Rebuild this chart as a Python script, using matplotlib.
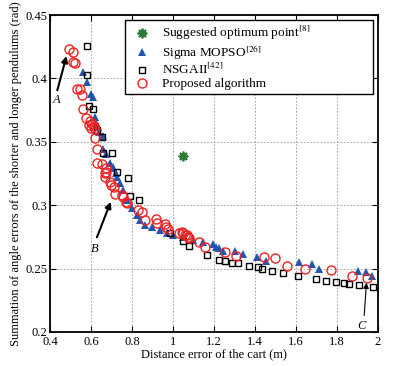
import matplotlib
matplotlib.use("Agg")
import matplotlib.pyplot as plt

plt.rcParams['font.family'] = ['Liberation Serif', 'DejaVu Serif']
plt.rcParams['mathtext.fontset'] = 'stix'

# Proposed algorithm (red circles)
prop_x = [0.494, 0.511, 0.514, 0.520, 0.532, 0.546, 0.557, 0.562, 0.574, 0.595, 0.592, 0.605,
          0.598, 0.615, 0.620, 0.620, 0.628, 0.631, 0.652, 0.672, 0.673, 0.668, 0.668, 0.693,
          0.698, 0.712, 0.717, 0.750, 0.758, 0.771, 0.777, 0.831, 0.847, 0.863, 0.917, 0.920,
          0.961, 0.966, 0.977, 1.031, 1.042, 1.050, 1.059, 1.067, 1.075, 1.080, 1.127, 1.156,
          1.254, 1.307, 1.444, 1.498, 1.555, 1.644, 1.769, 1.875, 1.948]
prop_y = [0.4230, 0.4206, 0.4130, 0.4120, 0.3916, 0.3916, 0.3870, 0.3756, 0.3690, 0.3667, 0.3633, 0.3640,
          0.3606, 0.3625, 0.3599, 0.3528, 0.3440, 0.3330, 0.3323, 0.3290, 0.3264, 0.3252, 0.3225, 0.3185,
          0.3159, 0.3146, 0.3088, 0.3080, 0.3067, 0.3027, 0.3015, 0.2962, 0.2949, 0.2883, 0.2889, 0.2862,
          0.2852, 0.2826, 0.2810, 0.2780, 0.2791, 0.2778, 0.2763, 0.2765, 0.2752, 0.2739, 0.2712, 0.2673,
          0.2633, 0.2599, 0.2589, 0.2581, 0.2523, 0.2497, 0.2489, 0.2442, 0.2428]

# Sigma MOPSO (blue triangles)
mopso_x = [0.562, 0.582, 0.600, 0.611, 0.620, 0.624, 0.633, 0.640, 0.652, 0.660, 0.660, 0.673,
           0.693, 0.706, 0.709, 0.722, 0.728, 0.741, 0.758, 0.777, 0.798, 0.823, 0.839, 0.863,
           0.896, 0.937, 0.969, 1.001, 1.050, 1.099, 1.148, 1.194, 1.210, 1.226, 1.245, 1.302,
           1.340, 1.408, 1.454, 1.615, 1.680, 1.712, 1.904, 1.940, 1.972]
mopso_y = [0.4053, 0.3974, 0.3875, 0.3856, 0.3698, 0.3651, 0.3619, 0.3580, 0.3540, 0.3546, 0.3440, 0.3404,
           0.3335, 0.3304, 0.3290, 0.3252, 0.3225, 0.3172, 0.3120, 0.3041, 0.2975, 0.2923, 0.2883, 0.2844,
           0.2826, 0.2804, 0.2783, 0.2765, 0.2747, 0.2726, 0.2712, 0.2694, 0.2673, 0.2660, 0.2641, 0.2641,
           0.2613, 0.2594, 0.2563, 0.2550, 0.2536, 0.2494, 0.2484, 0.2476, 0.2442]

# NSGAII (black squares)
nsga_x = [0.579, 0.579, 0.590, 0.611, 0.631, 0.652, 0.660, 0.704, 0.725, 0.782, 0.790, 0.836,
          0.985, 1.050, 1.080, 1.164, 1.226, 1.254, 1.286, 1.319, 1.371, 1.413, 1.433, 1.481,
          1.538, 1.608, 1.696, 1.745, 1.795, 1.834, 1.859, 1.907, 1.977]
nsga_y = [0.4258, 0.4027, 0.3782, 0.3756, 0.3593, 0.3540, 0.3409, 0.3409, 0.3259, 0.3214, 0.3073, 0.3041,
          0.2778, 0.2718, 0.2681, 0.2607, 0.2568, 0.2562, 0.2542, 0.2542, 0.2521, 0.2510, 0.2494, 0.2484,
          0.2463, 0.2442, 0.2416, 0.2405, 0.2397, 0.2384, 0.2379, 0.2371, 0.2353]

# Suggested optimum point
opt_x = [1.047]
opt_y = [0.339]

x_ticks = [0.4, 0.6, 0.8, 1.0, 1.2, 1.4, 1.6, 1.8, 2.0]
x_ticklabels = ['0.4', '0.6', '0.8', '1', '1.2', '1.4', '1.6', '1.8', '2']
y_ticks = [0.2, 0.25, 0.3, 0.35, 0.4, 0.45]
y_ticklabels = ['0.2', '0.25', '0.3', '0.35', '0.4', '0.45']

fig = plt.figure(figsize=(3.97, 3.66), dpi=100)
ax = fig.add_axes([0.126, 0.093, 0.826, 0.866])

ax.plot(opt_x, opt_y, linestyle='none', marker=(8, 2, 0), color='#2a7a36', markersize=7,
        markeredgewidth=1.3, label='Suggested optimum point$^{[8]}$')
ax.plot(mopso_x, mopso_y, linestyle='none', marker='^', color='#2156b0', markersize=5.5,
        markeredgewidth=0, label='Sigma MOPSO$^{[26]}$')
ax.plot(nsga_x, nsga_y, linestyle='none', marker='s', markerfacecolor='none',
        markeredgecolor='black', markersize=5, markeredgewidth=1.0, label='NSGAII$^{[42]}$')
ax.plot(prop_x, prop_y, linestyle='none', marker='o', markerfacecolor='none',
        markeredgecolor='#ee2222', markersize=6.5, markeredgewidth=1.0, label='Proposed algorithm')

ax.set_xlim(0.4, 2.0)
ax.set_ylim(0.2, 0.45)
ax.set_xticks(x_ticks)
ax.set_xticklabels(x_ticklabels)
ax.set_yticks(y_ticks)
ax.set_yticklabels(y_ticklabels)
ax.tick_params(direction='in', top=True, right=True, labelsize=9, length=4, width=0.8, pad=2)
ax.tick_params(axis='x', pad=3)
ax.grid(True, linestyle=(0, (2, 2)), color='#999999', linewidth=0.6)
for s in ax.spines.values():
    s.set_linewidth(1.3)

ax.set_xlabel('Distance error of the cart (m)', fontsize=9, labelpad=0)
ax.set_ylabel('Summation of angle errors of the shorter and longer pendulums (rad)', fontsize=9, labelpad=2)

ax.annotate('', xy=(0.484, 0.4198), xytext=(0.432, 0.3885),
            arrowprops=dict(arrowstyle='-|>', color='black', lw=1.5, mutation_scale=9))
ax.text(0.43, 0.383, 'A', fontsize=9, style='italic', ha='center', va='center')
ax.annotate('', xy=(0.701, 0.3047), xytext=(0.624, 0.2726),
            arrowprops=dict(arrowstyle='-|>', color='black', lw=1.5, mutation_scale=9))
ax.text(0.62, 0.2652, 'B', fontsize=9, style='italic', ha='center', va='center')
ax.annotate('', xy=(1.945, 0.241), xytext=(1.932, 0.2108),
            arrowprops=dict(arrowstyle='-|>', color='black', lw=0.8, mutation_scale=8))
ax.text(1.92, 0.2047, 'C', fontsize=9, style='italic', ha='center', va='center')

leg = ax.legend(loc='upper left', bbox_to_anchor=(0.229, 0.984, 0.756, 0.0), mode='expand',
                fontsize=9.5, frameon=True, fancybox=False, edgecolor='black',
                framealpha=1, borderaxespad=0.0, handletextpad=0.5, labelspacing=0.05,
                borderpad=0.3, handlelength=2.0)
leg.get_frame().set_linewidth(1.0)

fig.savefig('out.png', dpi=100)
